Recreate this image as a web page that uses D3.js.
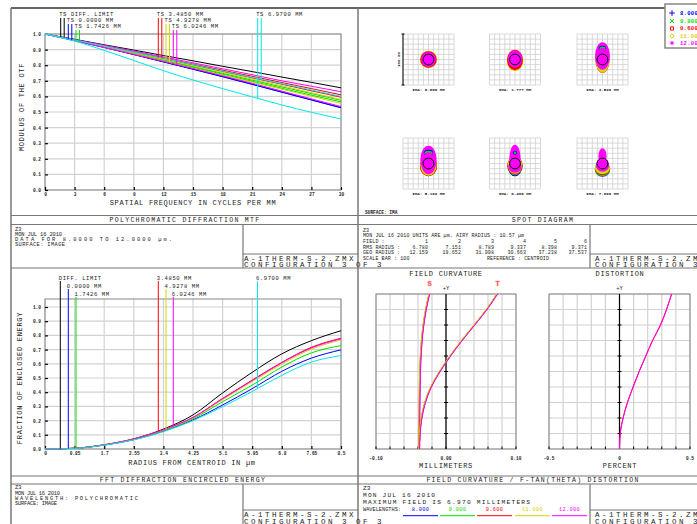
<!DOCTYPE html>
<html>
<head>
<meta charset="utf-8">
<script src="https://cdn.jsdelivr.net/npm/d3@7.9.0/dist/d3.min.js"></script>
<style>
  body { margin: 0; background: #fff; }
  svg { display: block; }
  text { font-family: "Liberation Mono", "DejaVu Sans Mono", monospace; fill: #222; }
</style>
</head>
<body>
<svg id="chart" width="697" height="524"></svg>
<script>
// ---- data ----
const wavelengths = ["8.000", "9.000", "9.600", "11.000", "12.000"];
const wlColors = ["#0000ff", "#00e000", "#ff0000", "#d4d400", "#ff00ff"];
const fieldNames = ["0.0000 MM", "1.7426 MM", "3.4850 MM", "4.9278 MM", "6.0246 MM", "6.9700 MM"];
const fieldColors = ["#0000ff", "#00e000", "#ff0000", "#d4d400", "#ff00ff", "#00e8e8"];

// MTF (modulus vs cycles/mm)
const mtfFreq = [0, 3, 6, 9, 12, 15, 18, 21, 24, 27, 30];
const mtfYTicks = [0, 0.1, 0.2, 0.3, 0.4, 0.5, 0.6, 0.7, 0.8, 0.9, 1.0];
const mtfDiff = [1, .966, .931, .897, .862, .828, .793, .759, .724, .690, .655];
const mtfTan = [
  [1, .958, .914, .868, .821, .774, .726, .677, .627, .577, .527],
  [1, .960, .918, .875, .831, .787, .742, .697, .652, .608, .565],
  [1, .962, .923, .883, .842, .801, .760, .719, .678, .636, .595],
  [1, .961, .921, .880, .838, .796, .754, .711, .668, .624, .580],
  [1, .964, .928, .891, .853, .815, .777, .739, .700, .665, .630],
  [1, .955, .895, .830, .765, .705, .650, .597, .545, .498, .455]
];
const mtfSag = [
  [1, .958, .914, .869, .822, .775, .727, .678, .628, .578, .528],
  [1, .961, .920, .878, .835, .792, .748, .704, .661, .618, .575],
  [1, .963, .925, .886, .847, .807, .768, .729, .689, .650, .610],
  [1, .959, .916, .872, .827, .781, .737, .692, .646, .601, .555],
  [1, .958, .915, .870, .825, .779, .732, .684, .634, .584, .535],
  [1, .962, .923, .884, .844, .804, .763, .722, .682, .641, .600]
];

// encircled energy (fraction vs radius in µm)
const eeRadius = [0, 0.85, 1.7, 2.55, 3.4, 4.25, 5.1, 5.95, 6.8, 7.65, 8.5];
const eeXLabels = ["0", "0.85", "1.7", "2.55", "3.4", "4.25", "5.1", "5.95", "6.8", "7.65", "8.5"];
const eeDiff = [0, .005, .030, .072, .140, .240, .395, .540, .670, .763, .833];
const eeField = [
  [0, .005, .028, .066, .126, .205, .310, .425, .547, .640, .698],
  [0, .005, .029, .068, .130, .213, .333, .450, .577, .677, .728],
  [0, .005, .029, .070, .135, .222, .356, .485, .610, .716, .780],
  [0, .005, .029, .069, .133, .218, .348, .475, .598, .703, .768],
  [0, .005, .029, .070, .135, .222, .354, .482, .607, .712, .776],
  [0, .004, .027, .064, .122, .200, .298, .405, .519, .612, .658]
];

// field curvature (mm) and distortion (%) vs relative field
const relField = [0, 0.1, 0.2, 0.3, 0.4, 0.5, 0.6, 0.7, 0.8, 0.9, 1.0];
const fcGridX = [-0.1, -0.08, -0.06, -0.04, -0.02, 0, 0.02, 0.04, 0.06, 0.08, 0.1];
const fcSag = [
  [-.0381, -.0380, -.0378, -.0376, -.0373, -.0368, -.0359, -.0344, -.0320, -.0285, -.0237],
  [-.0383, -.0382, -.0380, -.0378, -.0375, -.0370, -.0361, -.0346, -.0322, -.0287, -.0239],
  [-.0387, -.0386, -.0384, -.0382, -.0379, -.0374, -.0365, -.0350, -.0326, -.0291, -.0243],
  [-.0389, -.0388, -.0386, -.0384, -.0381, -.0376, -.0367, -.0352, -.0328, -.0293, -.0245],
  [-.0377, -.0376, -.0374, -.0372, -.0369, -.0364, -.0355, -.0340, -.0316, -.0281, -.0233]
];
const fcTan = [
  [-.0381, -.0372, -.0347, -.0297, -.0212, -.0087, .0063, .0228, .0408, .0583, .0733],
  [-.0383, -.0374, -.0349, -.0299, -.0214, -.0089, .0061, .0226, .0406, .0581, .0731],
  [-.0387, -.0378, -.0353, -.0303, -.0218, -.0093, .0057, .0222, .0402, .0577, .0727],
  [-.0389, -.0380, -.0355, -.0305, -.0220, -.0095, .0055, .0220, .0400, .0575, .0725],
  [-.0377, -.0368, -.0343, -.0293, -.0208, -.0083, .0067, .0232, .0412, .0587, .0737]
];
const distGridX = [-0.5, -0.4, -0.3, -0.2, -0.1, 0, 0.1, 0.2, 0.3, 0.4, 0.5];
const distPct = [
  [0, .005, .025, .056, .096, .139, .186, .234, .290, .333, .369],
  [0, .005, .026, .057, .097, .140, .187, .235, .292, .334, .370]
];
const distColors = ["#ff0000", "#ff00ff"];

// spot diagram: blobs [wavelength, cx, cy, rx, ry] in µm about the centroid
const spotLabels = ["IMA: 0.000 MM", "IMA: 1.777 MM", "IMA: 3.526 MM",
                    "IMA: 5.162 MM", "IMA: 6.466 MM", "IMA: 7.009 MM"];
const spotBlobs = [
  [[3, 0, 0, 17, 17], [2, 0, 0, 16, 16], [4, 0, 0, 14.5, 14.5]],
  [[3, 0, -2, 16, 21], [2, 0, -1, 15.5, 20], [4, 0, 1, 14, 17]],
  [[2, 0, 0, 14, 26], [3, 0, 1, 14, 27], [4, 0, 7, 14.5, 27],
   [0, 0, 22, 7, 5], [1, 0, 21, 6, 4.5], [4, 0, 19, 5, 4]],
  [[0, 0, -4, 16, 21], [1, 0, -4, 16, 21], [2, 0, -5, 17, 20], [3, 0, -4, 16, 20],
   [4, 0, 7, 16, 28], [0, 0, 21, 9, 6], [1, 0, 20, 8, 5], [4, 0, 18, 7, 4]],
  [[0, 0, -6, 14, 19], [1, 0, -5, 15, 18], [2, 0, -4, 15, 18], [3, 0, -3, 14, 17],
   [4, 0, 10, 11, 27], [4, 0, -6, 13, 12], [0, 0, 21, 4, 4], [1, 0, 21, 2.5, 2.5]],
  [[0, 0, -12, 15, 14], [1, 0, -11, 15, 14], [2, 0, -10, 15, 13], [3, 0, -9, 15, 12],
   [4, 0, 14, 8, 16], [4, 0, -3, 13, 13]]
];
const airyRadius = 10.57;
const spotField = ["1", "2", "3", "4", "5", "6"];
const spotRms = ["6.780", "7.151", "8.789", "9.337", "8.398", "9.371"];
const spotGeo = ["12.159", "19.652", "31.998", "30.663", "37.238", "37.537"];

// ---- drawing ----
const svg = d3.select("#chart");
svg.append("rect").attr("width", 697).attr("height", 524).attr("fill", "#fff");

function txt(x, y, s, o = {}) {
  const fs = o.size || 6;
  const t = (o.g || svg).append("text")
    .attr("x", x).attr("y", y + fs * 0.35)
    .attr("font-size", fs)
    .attr("text-anchor", o.anchor || "start")
    .style("letter-spacing", (o.ls || 0) + "px")
    .text(s);
  if (o.len) t.attr("textLength", o.len).attr("lengthAdjust", "spacing");
  if (o.color) t.style("fill", o.color);
  if (o.bold) t.attr("font-weight", "bold");
  if (o.rotate) t.attr("transform", `rotate(${o.rotate},${x},${y})`);
  return t;
}
function seg(x1, y1, x2, y2, c = "#777", w = 1.5) {
  svg.append("line").attr("x1", x1).attr("y1", y1).attr("x2", x2).attr("y2", y2)
    .attr("stroke", c).attr("stroke-width", w);
}
const big = { size: 7, ls: 0.7 };
const cap = { size: 6.5, ls: 1.3, anchor: "middle" };
const fileTag = { size: 7.5, ls: 2.5 };
const key = { size: 5.5, ls: 0.6 };
const note = { size: 5.4 };

// panel frame
seg(11, 8, 697, 8, "#666", 2);
seg(11, 8, 11, 524, "#777", 1.5);
seg(358, 8, 358, 524, "#777", 1.5);
[215.5, 224.5, 268, 476, 484].forEach(y => seg(11, y, 697, y, "#777", 1.2));
[[224.5, 268], [484, 524]].forEach(([a, b]) => { seg(243, a, 243, b, "#777", 1.2); seg(590, a, 590, b, "#777", 1.2); });
[254, 510].forEach(y => { seg(243, y, 358, y, "#777", 1.2); seg(590, y, 697, y, "#777", 1.2); });

function styleAxis(g, fs) {
  g.select(".domain").remove();
  g.attr("font-size", fs).attr("font-weight", "bold");
  g.selectAll(".tick line").attr("stroke", "#000").attr("stroke-width", 1.2);
}
function grid(g, xs, ys, xScale, yScale, x0, x1, y0, y1) {
  g.selectAll(null).data(xs).join("line")
    .attr("x1", d => xScale(d)).attr("x2", d => xScale(d)).attr("y1", y0).attr("y2", y1)
    .attr("stroke", "#d2d2d2").attr("stroke-width", 1.2);
  g.selectAll(null).data(ys).join("line")
    .attr("x1", x0).attr("x2", x1).attr("y1", d => yScale(d)).attr("y2", d => yScale(d))
    .attr("stroke", "#d2d2d2").attr("stroke-width", 1.2);
  g.append("rect").attr("x", x0).attr("y", y0).attr("width", x1 - x0).attr("height", y1 - y0)
    .attr("fill", "none").attr("stroke", "#888").attr("stroke-width", 1);
}

// ---------- MTF ----------
{
  const x = d3.scaleLinear().domain([0, 30]).range([45, 341]);
  const y = d3.scaleLinear().domain([0, 1]).range([190, 34]);
  const g = svg.append("g");
  grid(g, mtfFreq, mtfYTicks, x, y, 45, 341, 34, 190);
  g.append("g").attr("transform", "translate(0,190)")
    .call(d3.axisBottom(x).tickValues(mtfFreq).tickSize(-3).tickPadding(3).tickFormat(d3.format("d")))
    .call(a => styleAxis(a, 4.5));
  g.append("g").attr("transform", "translate(45,0)")
    .call(d3.axisLeft(y).tickValues(mtfYTicks).tickSize(-3).tickPadding(4).tickFormat(d3.format(".1f")))
    .call(a => styleAxis(a, 4.5));

  const line = d3.line().x((d, i) => x(mtfFreq[i])).y(d => y(d)).curve(d3.curveMonotoneX);
  const series = [{ v: mtfDiff, c: "#000" }];
  fieldColors.forEach((c, i) => { series.push({ v: mtfSag[i], c }); series.push({ v: mtfTan[i], c }); });
  g.selectAll(null).data(series).join("path")
    .attr("d", d => line(d.v)).attr("fill", "none").attr("stroke", d => d.c).attr("stroke-width", 1);

  // key: pairs of lines dropped to the T and S curves
  const keyX = [60.7, 68.3, 76, 158.3, 166, 173.3, 257.7];
  const keyRow = [0, 1, 2, 0, 1, 2, 0];
  const names = ["DIFF. LIMIT"].concat(fieldNames);
  names.forEach((n, k) => {
    const c = k === 0 ? "#000" : fieldColors[k - 1];
    const pair = k === 0 ? [mtfDiff, mtfDiff] : [mtfTan[k - 1], mtfSag[k - 1]];
    const ly = 14 + keyRow[k] * 6;
    txt(keyX[k] - 1.5, ly, "TS " + n, key);
    pair.forEach((vals, j) => {
      const lx = keyX[k] + j * 3.5;
      const f = x.invert(lx);
      const v = d3.scaleLinear().domain(mtfFreq).range(vals)(f);
      seg(lx, ly + 4, lx, y(v), c, 1);
    });
  });
  txt(193, 203, "SPATIAL FREQUENCY IN CYCLES PER MM", { ...big, anchor: "middle" });
  txt(22, 107, "MODULUS OF THE OTF", { ...big, anchor: "middle", rotate: -90 });
}
txt(185, 220, "POLYCHROMATIC DIFFRACTION MTF", cap);
txt(15, 228.8, "Z3", note);
txt(15, 234, "MON JUL 16 2010", { ...note, len: 47 });
txt(15, 239.2, "DATA FOR 8.0000 TO 12.0000 µm.", { ...note, len: 157 });
txt(15, 244.4, "SURFACE: IMAGE", { ...note, len: 50 });
txt(244, 258, "A-1THERM-S-2.ZMX", fileTag);
txt(244, 264.5, "CONFIGURATION 3 OF 3", fileTag);

// ---------- Encircled energy ----------
{
  const x = d3.scaleLinear().domain([0, 8.5]).range([45, 341]);
  const y = d3.scaleLinear().domain([0, 1]).range([449, 307]);
  const g = svg.append("g");
  grid(g, eeRadius, mtfYTicks, x, y, 45, 341, 299, 449);
  g.append("g").attr("transform", "translate(0,449)")
    .call(d3.axisBottom(x).tickValues(eeRadius).tickSize(-3).tickPadding(3).tickFormat((d, i) => eeXLabels[i]))
    .call(a => styleAxis(a, 4.5));
  g.append("g").attr("transform", "translate(45,0)")
    .call(d3.axisLeft(y).tickValues(mtfYTicks).tickSize(-3).tickPadding(4).tickFormat(d3.format(".1f")))
    .call(a => styleAxis(a, 4.5));

  const line = d3.line().x((d, i) => x(eeRadius[i])).y(d => y(d)).curve(d3.curveMonotoneX);
  const series = [{ v: eeDiff, c: "#000" }].concat(eeField.map((v, i) => ({ v, c: fieldColors[i] })));
  g.selectAll(null).data(series).join("path")
    .attr("d", d => line(d.v)).attr("fill", "none").attr("stroke", d => d.c).attr("stroke-width", 1);

  const keyX = [60.3, 68.3, 76, 158.3, 166, 173.3, 257.5];
  const keyRow = [0, 1, 2, 0, 1, 2, 0];
  series.forEach((s, k) => {
    const ly = 278 + keyRow[k] * 8;
    txt(keyX[k] - 1.5, ly, k === 0 ? "DIFF. LIMIT" : fieldNames[k - 1], key);
    const v = d3.scaleLinear().domain(eeRadius).range(s.v)(x.invert(keyX[k]));
    seg(keyX[k], ly + 3, keyX[k], y(v), s.c, 1);
  });
  txt(192, 463, "RADIUS FROM CENTROID IN µm", { ...big, anchor: "middle" });
  txt(20, 378, "FRACTION OF ENCLOSED ENERGY", { ...big, anchor: "middle", rotate: -90 });
}
txt(183, 480, "FFT DIFFRACTION ENCIRCLED ENERGY", cap);
txt(15, 487.5, "Z3", note);
txt(15, 492.7, "MON JUL 16 2010", { ...note, len: 45 });
txt(15, 497.9, "WAVELENGTH: POLYCHROMATIC", { ...note, len: 123 });
txt(15, 503.1, "SURFACE: IMAGE", { ...note, len: 42 });
txt(244, 514.5, "A-1THERM-S-2.ZMX", fileTag);
txt(244, 521, "CONFIGURATION 3 OF 3", fileTag);

// ---------- Spot diagram ----------
{
  const sx = d3.scaleLinear().domain([-50, 50]).range([-25.5, 25.5]);
  const sy = d3.scaleLinear().domain([-50, 50]).range([25.5, -25.5]);
  const cx = [428.5, 515, 602.5], cy = [59.5, 163.5];
  spotBlobs.forEach((blobs, f) => {
    const g = svg.append("g").attr("transform", `translate(${cx[f % 3]},${cy[Math.floor(f / 3)]})`);
    const gl = sx.ticks(10);
    g.selectAll(null).data(gl).join("line")
      .attr("x1", d => sx(d)).attr("x2", d => sx(d)).attr("y1", -25.5).attr("y2", 25.5)
      .attr("stroke", "#cfcfcf").attr("stroke-width", 0.8);
    g.selectAll(null).data(gl).join("line")
      .attr("y1", d => sy(d)).attr("y2", d => sy(d)).attr("x1", -25.5).attr("x2", 25.5)
      .attr("stroke", "#cfcfcf").attr("stroke-width", 0.8);
    g.selectAll(null).data(blobs).join("ellipse")
      .attr("cx", d => sx(d[1])).attr("cy", d => sy(d[2]))
      .attr("rx", d => sx(d[3]) - sx(0)).attr("ry", d => sx(d[4]) - sx(0))
      .attr("fill", d => wlColors[d[0]]);
    g.append("circle").attr("r", sx(airyRadius) - sx(0))
      .attr("fill", "none").attr("stroke", "#000").attr("stroke-width", 1);
    txt(0, 30.5, spotLabels[f], { g, size: 4.2, bold: true, anchor: "middle" });
  });
  // scale bar on first box
  seg(403, 34, 403, 85, "#000", 1);
  seg(401.5, 34, 404.5, 34, "#000", 1);
  seg(401.5, 85, 404.5, 85, "#000", 1);
  txt(398.5, 59.5, "100.00", { size: 4.2, bold: true, anchor: "middle", rotate: -90 });

  // wavelength legend
  svg.append("rect").attr("x", 665).attr("y", 4).attr("width", 40).attr("height", 44)
    .attr("fill", "#fff").attr("stroke", "#888").attr("stroke-width", 1.5);
  const syms = [d3.symbolPlus, d3.symbolTimes, d3.symbolSquare2, d3.symbolDiamond2, d3.symbolAsterisk];
  const ky = [13, 21, 28.5, 36, 43];
  wavelengths.forEach((w, i) => {
    svg.append("path").attr("d", d3.symbol(syms[i], 12)())
      .attr("transform", `translate(672,${ky[i]})`)
      .attr("fill", "none").attr("stroke", wlColors[i]).attr("stroke-width", 1);
    txt(680, ky[i], w, { size: 5.5, ls: 0.3, color: wlColors[i], bold: true });
  });
}
txt(365, 212, "SURFACE: IMA", { size: 4.5, bold: true });
txt(543, 220, "SPOT DIAGRAM", cap);
{
  const sm = { size: 5, ls: 0.1 };
  txt(363, 230, "Z3", sm);
  txt(363, 235.7, "MON JUL 16 2010  UNITS ARE µm.   AIRY RADIUS : " + airyRadius + " µm", sm);
  txt(363, 241.5, "FIELD      :", sm);
  txt(363, 247.2, "RMS RADIUS :", sm);
  txt(363, 252.7, "GEO RADIUS :", sm);
  txt(363, 258.2, "SCALE BAR  :     100", sm);
  txt(487, 258.2, "REFERENCE  : CENTROID", sm);
  const colX = [428, 461, 494, 526, 557, 587];
  const rows = [[spotField, 241.5], [spotRms, 247.2], [spotGeo, 252.7]];
  rows.forEach(([vals, y]) => vals.forEach((v, i) => txt(colX[i], y, v, { ...sm, anchor: "end" })));
}
txt(595, 258, "A-1THERM-S-2.ZMX", fileTag);
txt(595, 264.5, "CONFIGURATION 3 OF 3", fileTag);

// ---------- Field curvature ----------
{
  const x = d3.scaleLinear().domain([-0.1, 0.1]).range([376, 516]);
  const y = d3.scaleLinear().domain([0, 1]).range([449, 294]);
  const g = svg.append("g");
  grid(g, fcGridX, relField, x, y, 376, 516, 294, 449);
  g.append("line").attr("x1", x(0)).attr("x2", x(0)).attr("y1", 294).attr("y2", 449).attr("stroke", "#000").attr("stroke-width", 1.2);
  g.selectAll(null).data(relField.slice(1, -1)).join("line")
    .attr("x1", x(0) - 2).attr("x2", x(0) + 2).attr("y1", d => y(d)).attr("y2", d => y(d))
    .attr("stroke", "#000").attr("stroke-width", 1);
  g.selectAll(null).data(fcGridX).join("line")
    .attr("x1", d => x(d)).attr("x2", d => x(d)).attr("y1", 449).attr("y2", 446.5)
    .attr("stroke", "#000").attr("stroke-width", 1);
  const line = d3.line().x(d => x(d)).y((d, i) => y(relField[i])).curve(d3.curveMonotoneY);
  [fcSag, fcTan].forEach(set => set.forEach((v, i) => {
    g.append("path").attr("d", line(v)).attr("fill", "none").attr("stroke", wlColors[i]).attr("stroke-width", 1);
  }));
  [[-0.1, "-0.10"], [0, "0.00"], [0.1, "0.10"]].forEach(([v, s]) => txt(x(v), 458, s, { size: 4.5, bold: true, anchor: "middle" }));
  txt(x(0), 288, "+Y", { size: 5.5, anchor: "middle" });
  txt(429.5, 284, "S", { size: 7, bold: true, anchor: "middle", color: "#ff00ff" }).style("stroke", "#ffa000").style("stroke-width", 0.4);
  txt(497.5, 284, "T", { size: 7, bold: true, anchor: "middle", color: "#ff00ff" }).style("stroke", "#ffa000").style("stroke-width", 0.4);
  txt(446, 274, "FIELD CURVATURE", { ...big, anchor: "middle" });
  txt(446, 466, "MILLIMETERS", { ...big, anchor: "middle" });
}

// ---------- Distortion ----------
{
  const x = d3.scaleLinear().domain([-0.5, 0.5]).range([549, 690]);
  const y = d3.scaleLinear().domain([0, 1]).range([449, 294]);
  const g = svg.append("g");
  grid(g, distGridX, relField, x, y, 549, 690, 294, 449);
  g.append("line").attr("x1", x(0)).attr("x2", x(0)).attr("y1", 294).attr("y2", 449).attr("stroke", "#000").attr("stroke-width", 1.2);
  g.selectAll(null).data(relField.slice(1, -1)).join("line")
    .attr("x1", x(0) - 2).attr("x2", x(0) + 2).attr("y1", d => y(d)).attr("y2", d => y(d))
    .attr("stroke", "#000").attr("stroke-width", 1);
  g.selectAll(null).data(distGridX).join("line")
    .attr("x1", d => x(d)).attr("x2", d => x(d)).attr("y1", 449).attr("y2", 446.5)
    .attr("stroke", "#000").attr("stroke-width", 1);
  const line = d3.line().x(d => x(d)).y((d, i) => y(relField[i])).curve(d3.curveMonotoneY);
  distPct.forEach((v, i) => g.append("path").attr("d", line(v)).attr("fill", "none")
    .attr("stroke", distColors[i]).attr("stroke-width", 1));
  [[-0.5, "-0.5"], [0, "0"], [0.5, "0.5"]].forEach(([v, s]) => txt(x(v), 458, s, { size: 4.5, bold: true, anchor: "middle" }));
  txt(x(0), 288, "+Y", { size: 5.5, anchor: "middle" });
  txt(620, 274, "DISTORTION", { ...big, anchor: "middle" });
  txt(620, 466, "PERCENT", { ...big, anchor: "middle" });
}
txt(533, 479.5, "FIELD CURVATURE / F-TAN(THETA) DISTORTION", cap);
txt(363, 487.5, "Z3", { size: 6.2 });
txt(363, 495, "MON JUL 16 2010", { size: 6.2, len: 72 });
txt(363, 502.3, "MAXIMUM FIELD IS 6.970 MILLIMETERS", { size: 6.2, len: 167 });
txt(363, 509, "WAVELENGTHS:", { size: 5.3, len: 38 });
{
  const wx = [403, 440, 477, 515, 552];
  wavelengths.forEach((w, i) => {
    txt(wx[i] + 17.5, 509, w, { size: 5.3, ls: 0.3, anchor: "middle", color: wlColors[i] });
    seg(wx[i], 515.7, wx[i] + 35, 515.7, wlColors[i], 1);
  });
}
txt(595, 514.5, "A-1THERM-S-2.ZMX", fileTag);
txt(595, 521, "CONFIGURATION 3 OF 3", fileTag);
</script>
</body>
</html>
